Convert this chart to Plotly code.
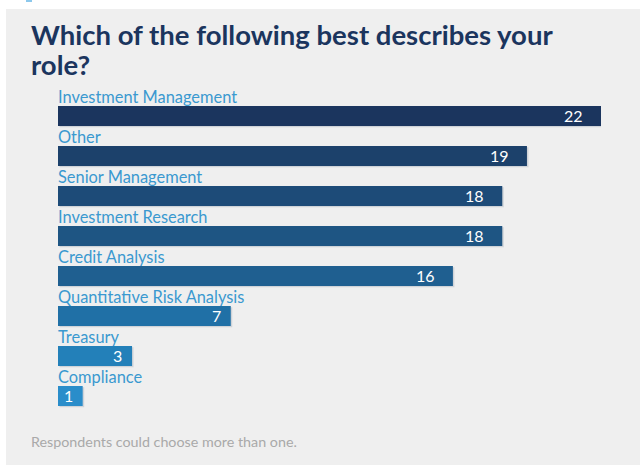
import plotly.graph_objects as go

roles = ["Investment Management", "Other", "Senior Management", "Investment Research",
         "Credit Analysis", "Quantitative Risk Analysis", "Treasury", "Compliance"]
counts = [22, 19, 18, 18, 16, 7, 3, 1]
bar_colors = ["#1b355e", "#1c416b", "#1d4b78", "#1e5583", "#1f5f90",
              "#2070a6", "#2380b9", "#2a8dca"]

title_lines = ["Which of the following best describes your", "role?"]
footnote = "Respondents could choose more than one."

W, H = 640, 465
ML, MR, MT, MB = 58, 39, 96, 49
pw, ph = W - ML - MR, H - MT - MB


def px_x(p):
    return (p - ML) / pw


def px_y(p):
    return (H - MB - p) / ph


fig = go.Figure()

# soft drop shadow behind each bar
fig.add_trace(go.Bar(
    x=counts, y=roles, orientation="h",
    marker=dict(color="rgba(150,160,175,0.35)", line=dict(width=0)),
    width=0.5, offset=-0.22, base=0.06,
    hoverinfo="skip", showlegend=False,
))

fig.add_trace(go.Bar(
    x=counts, y=roles, orientation="h",
    marker=dict(color=bar_colors, line=dict(width=0)),
    width=0.5, offset=-0.25,
    hoverinfo="skip", showlegend=False,
))

annotations = []
for r, c in zip(roles, counts):
    # category name sits above its bar
    annotations.append(dict(
        x=0, y=r, xref="x", yref="y", text=r, showarrow=False,
        xanchor="left", yanchor="middle", yshift=20, xshift=-2,
        font=dict(family="Lato, sans-serif", size=16.4, color="#3a99d0"),
    ))
    # value label inside the bar end
    label = str(c)
    annotations.append(dict(
        x=c, y=r, xref="x", yref="y", text=label, showarrow=False,
        xanchor="right", yanchor="middle",
        xshift=-16 if len(label) > 1 else -8, yshift=1,
        font=dict(family="Lato, sans-serif", size=16, color="white"),
    ))

for i, line in enumerate(title_lines):
    annotations.append(dict(
        x=px_x(29), y=px_y(53 + 30 * i), xref="paper", yref="paper",
        text="<b>%s</b>" % line, showarrow=False,
        xanchor="left", yanchor="bottom",
        font=dict(family="Lato, sans-serif", size=27.5, color="#1b355e"),
    ))

annotations.append(dict(
    x=px_x(29), y=px_y(441), xref="paper", yref="paper",
    text=footnote, showarrow=False, xanchor="left", yanchor="middle",
    font=dict(family="Lato, sans-serif", size=14.3, color="#a9a9a9"),
))

shapes = [
    dict(type="rect", xref="paper", yref="paper", layer="below",
         x0=px_x(-5), x1=px_x(W + 5), y0=px_y(-5), y1=px_y(9),
         fillcolor="white", line=dict(width=0)),
    dict(type="rect", xref="paper", yref="paper", layer="below",
         x0=px_x(-5), x1=px_x(6), y0=px_y(H + 5), y1=px_y(-5),
         fillcolor="white", line=dict(width=0)),
    dict(type="rect", xref="paper", yref="paper", layer="below",
         x0=px_x(26), x1=px_x(32), y0=px_y(2), y1=px_y(0),
         fillcolor="#8cc8ec", line=dict(width=0)),
]

fig.update_layout(
    width=W, height=H,
    margin=dict(l=ML, r=MR, t=MT, b=MB, pad=0),
    paper_bgcolor="#efefef", plot_bgcolor="rgba(0,0,0,0)",
    barmode="overlay",
    xaxis=dict(range=[0, 22], visible=False, fixedrange=True),
    yaxis=dict(categoryorder="array", categoryarray=roles, autorange=False,
               range=[len(roles) - 0.5, -0.5], visible=False, fixedrange=True),
    annotations=annotations, shapes=shapes,
)

fig.write_html("out.html")
